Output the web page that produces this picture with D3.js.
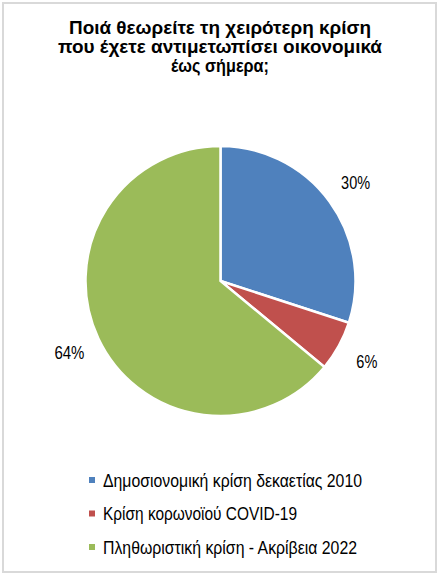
<!DOCTYPE html>
<html><head><meta charset="utf-8">
<script src="https://cdn.jsdelivr.net/npm/d3@7"></script>
<style>html,body{margin:0;padding:0;background:#fff;}svg{display:block;}</style>
</head><body>
<script>
const titleLines = ["Ποιά θεωρείτε τη χειρότερη κρίση", "που έχετε αντιμετωπίσει οικονομικά", "έως σήμερα;"];
const categories = ["Δημοσιονομική κρίση δεκαετίας 2010", "Κρίση κορωνοϊού COVID-19", "Πληθωριστική κρίση - Ακρίβεια 2022"];
const values = [30, 6, 64];
const labels = ["30%", "6%", "64%"];
const colors = ["#4f81bd", "#c0504d", "#9bbb59"];

const W = 441, H = 576;
const svg = d3.select("body").append("svg").attr("width", W).attr("height", H);
svg.append("rect").attr("x", 3).attr("y", 3).attr("width", 433).attr("height", 569)
  .attr("fill", "#fff").attr("stroke", "#d9d9d9").attr("stroke-width", 2);

const font = "'Liberation Sans', Arial, sans-serif";
function fit(el, w) {
  el.attr("textLength", w).attr("lengthAdjust", "spacingAndGlyphs");
}
const title = svg.append("g");
const titleWidths = [302, 324, 98];
titleLines.forEach((t, i) => {
  const el = title.append("text").attr("x", 220).attr("y", 34 + i * 19)
    .attr("text-anchor", "middle").attr("font-family", font).attr("font-weight", "bold")
    .attr("font-size", 19).attr("fill", "#000").text(t);
  fit(el, titleWidths[i]);
});

const cx = 220.5, cy = 281, r = 135;
const pie = d3.pie().sort(null).value(d => d)(values);
const arc = d3.arc().innerRadius(0).outerRadius(r);
const g = svg.append("g").attr("transform", `translate(${cx},${cy})`);
g.selectAll("path").data(pie).join("path").attr("d", arc)
  .attr("fill", (d, i) => colors[i]).attr("stroke", "#fff").attr("stroke-width", 2.5);

const labelArc = d3.arc().innerRadius(167).outerRadius(167);
const labelWidths = [29, 21, 30];
g.selectAll("text.lbl").data(pie).join("text").attr("class", "lbl")
  .each(function(d, i) {
    const c = labelArc.centroid(d);
    const el = d3.select(this).attr("x", c[0]).attr("y", c[1] + 6.5);
    fit(el, labelWidths[i]);
  })
  .attr("text-anchor", "middle").attr("font-family", font).attr("font-size", 17.5)
  .attr("fill", "#000").text((d, i) => labels[i]);

const legend = svg.append("g");
const legendWidths = [259, 194, 254];
categories.forEach((c, i) => {
  const y = 480 + i * 33.5;
  legend.append("rect").attr("x", 89).attr("y", y - 3).attr("width", 6).attr("height", 6).attr("fill", colors[i]);
  const el = legend.append("text").attr("x", 103).attr("y", y + 6.5).attr("font-family", font)
    .attr("font-size", 17.5).attr("fill", "#000").text(c);
  fit(el, legendWidths[i]);
});
</script>
</body></html>
